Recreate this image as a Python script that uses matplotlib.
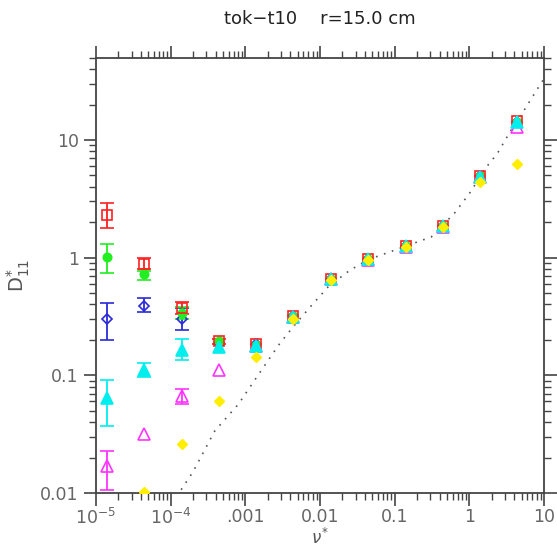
import numpy as np
import matplotlib
matplotlib.use('Agg')
import matplotlib.pyplot as plt
from matplotlib.ticker import FixedLocator, FixedFormatter, LogLocator, NullFormatter

nan = np.nan

# collisionality values (nu*)
nu = [1.4e-5, 4.4e-5, 1.4e-4, 4.4e-4, 1.4e-3, 4.4e-3, 0.014, 0.044, 0.14, 0.44, 1.4, 4.4]

# D*11 for each series, with lower / upper error bounds (nan = no bar)
red_y = [2.3, 0.89, 0.37, 0.195, 0.185, 0.32, 0.66, 0.97, 1.25, 1.85, 4.9, 14.5]
red_lo = [1.8, 0.80, 0.33, 0.185, nan, nan, nan, nan, nan, nan, nan, nan]
red_hi = [2.9, 0.99, 0.42, 0.205, nan, nan, nan, nan, nan, nan, nan, nan]

green_y = [1.02, 0.73, 0.34, 0.195, 0.182, 0.32, 0.66, 0.97, 1.25, 1.85, 4.9, 14.3]
green_lo = [0.74, 0.64, 0.30, nan, nan, nan, nan, nan, nan, nan, nan, nan]
green_hi = [1.31, 0.77, 0.38, nan, nan, nan, nan, nan, nan, nan, nan, nan]

blue_y = [0.30, 0.39, 0.30, 0.19, 0.183, 0.32, 0.66, 0.97, 1.25, 1.85, 4.9, 14.3]
blue_lo = [0.20, 0.345, 0.245, nan, nan, nan, nan, nan, nan, nan, nan, nan]
blue_hi = [0.41, 0.45, 0.37, nan, nan, nan, nan, nan, nan, nan, nan, nan]

cyan_y = [0.0645, 0.112, 0.165, 0.175, 0.178, 0.315, 0.66, 0.97, 1.25, 1.85, 4.85, 14.3]
cyan_lo = [0.037, 0.097, 0.136, nan, nan, nan, nan, nan, nan, nan, nan, nan]
cyan_hi = [0.091, 0.127, 0.203, nan, nan, nan, nan, nan, nan, nan, nan, nan]

mag_y = [0.017, 0.032, 0.067, 0.112, 0.177, 0.315, 0.655, 0.96, 1.24, 1.82, 4.8, 12.8]
mag_lo = [0.0106, nan, 0.057, nan, nan, nan, nan, nan, nan, nan, nan, nan]
mag_hi = [0.0228, nan, 0.077, nan, nan, nan, nan, nan, nan, nan, nan, nan]

yel_y = [nan, 0.0102, 0.0262, 0.06, 0.143, 0.30, 0.64, 0.96, 1.24, 1.82, 4.4, 6.3]

# dotted reference curve
curve_x = [1.2e-4, 2.0e-4, 3.9e-4, 8.1e-4, 1.65e-3, 2.9e-3, 4.7e-3, 7.8e-3, 0.0129, 0.025,
           0.044, 0.08, 0.14, 0.31, 0.63, 1.0, 1.7, 2.38, 3.5, 5.27, 9.1, 10]
curve_y = [0.0093, 0.0152, 0.0337, 0.057, 0.111, 0.187, 0.273, 0.396, 0.566, 0.78,
           0.96, 1.1, 1.25, 1.5, 2.38, 3.5, 5.9, 7.7, 11.7, 17.4, 30.3, 33]

xticks = [1e-5, 1e-4, 1e-3, 1e-2, 1e-1, 1, 10]
xlabels = [r'$10^{-5}$', r'$10^{-4}$', '.001', '0.01', '0.1', '1', '10']
yticks = [0.01, 0.1, 1, 10]
ylabels = ['0.01', '0.1', '1', '10']

fig = plt.figure(figsize=(5.57, 5.47), dpi=100)
ax = fig.add_axes([96 / 557, 1 - 493 / 547, 448 / 557, 435.3 / 547])
ax.set_xscale('log')
ax.set_yscale('log')

ax.plot(curve_x, curve_y, color='#555555', linestyle=(0, (1, 4)), linewidth=1.2, zorder=1)


def err(y, lo, hi):
    y = np.array(y)
    return [y - np.array(lo), np.array(hi) - y]


# drawn back to front, as overlapping marks show in the original
series = [
    (blue_y, blue_lo, blue_hi, '#2a2ad8', 'D', 'none', 5.5),
    (green_y, green_lo, green_hi, '#22ee22', 'o', '#22ee22', 6),
    (red_y, red_lo, red_hi, '#ff2020', 's', 'none', 6.5),
    (mag_y, mag_lo, mag_hi, '#ff33ff', '^', 'none', 9),
    (cyan_y, cyan_lo, cyan_hi, '#00eeee', '^', '#00eeee', 8),
]
for y, lo, hi, c, m, fc, ms in series:
    ax.errorbar(nu, y, yerr=err(y, lo, hi), fmt=m, color=c, mfc=fc, mec=c,
                ms=ms, mew=1.2, elinewidth=1.3, capsize=5, capthick=1.3, zorder=3)
ax.plot(nu, yel_y, 'D', color='#ffee00', ms=5.5, zorder=4, linestyle='none')

ax.set_xlim(1e-5, 10)
ax.set_ylim(0.01, 50)

ax.xaxis.set_major_locator(FixedLocator(xticks))
ax.xaxis.set_major_formatter(FixedFormatter(xlabels))
ax.yaxis.set_major_locator(FixedLocator(yticks))
ax.yaxis.set_major_formatter(FixedFormatter(ylabels))
ax.xaxis.set_minor_locator(LogLocator(base=10, subs=np.arange(2, 10), numticks=20))
ax.yaxis.set_minor_locator(LogLocator(base=10, subs=np.arange(2, 10), numticks=20))
ax.xaxis.set_minor_formatter(NullFormatter())
ax.yaxis.set_minor_formatter(NullFormatter())

ax.tick_params(which='both', direction='out', top=True, right=True, color='#444444',
               labelcolor='#666666', labelsize=12.5)
ax.tick_params(which='major', length=9, width=1.2)
ax.tick_params(which='minor', length=5, width=1.0)
ax.tick_params(axis='x', pad=2)
for s in ax.spines.values():
    s.set_color('#444444')
    s.set_linewidth(1.3)

ax.set_xlabel(r'$\nu^{*}$', fontsize=12, color='#555555', labelpad=0)
ax.set_ylabel(r'D$^{*}_{11}$', fontsize=14, color='#555555', labelpad=6)
ax.set_title('tok\u2212t10    r=15.0 cm', fontsize=13, color='#222222', pad=24)

fig.savefig('out.png', dpi=100)
